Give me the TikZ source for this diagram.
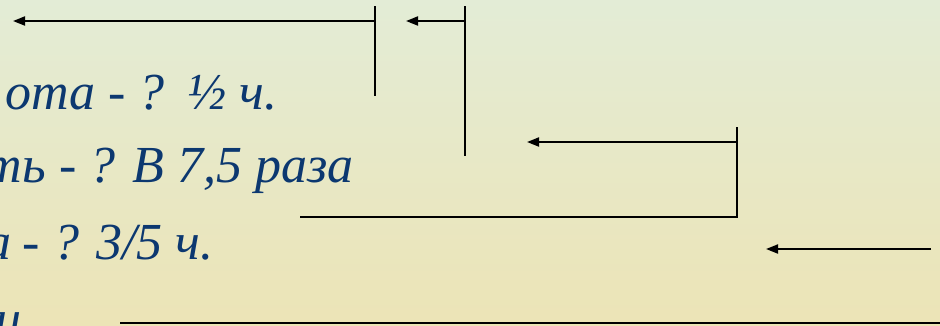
\documentclass[tikz,border=0pt]{standalone}
\usepackage{fontspec}
\setmainfont{Liberation Serif}
\usetikzlibrary{arrows.meta, positioning}
\definecolor{inkblue}{RGB}{12,56,112}
\definecolor{bgtop}{RGB}{227,236,214}
\definecolor{bgbottom}{RGB}{236,228,182}

\begin{document}
\begin{tikzpicture}[x=1pt, y=-1pt,
                given/.style={font=\fontsize{52}{56}\selectfont\itshape, text=inkblue,
                              inner sep=0pt, anchor=base east},
                bar/.style={line width=1.8pt, line cap=butt},
                back/.style={-{Triangle[length=12pt, width=9pt]}, line width=1.8pt}]

                % Background
                \shade[top color=bgtop, bottom color=bgbottom] (0,0) rectangle (940,325);
                \useasboundingbox (0,0) rectangle (940,325);
                \clip (0,0) rectangle (940,325);

                % Given values
                \node[given] (half) at (278,109) {ота - ?\hspace{0.45em}½ ч.};
                \node[given] (ratio) at (354,182) {ть - ? В 7,5 раза};
                \node[given] (part) at (214,259) {а\hspace{-0.03em} - ? 3/5 ч.};
                \node[given] (last) at (22,336) {и};

                % Bracket points
                \coordinate (b1top) at (375,6);
                \coordinate (b1bot) at (375,96);
                \coordinate (b1tip) at (13,21);
                \coordinate (b2top) at (465,6);
                \coordinate (b2bot) at (465,156);
                \coordinate (b2tip) at (406,21);
                \coordinate (b3top) at (737,127);
                \coordinate (b3bot) at (737,217);
                \coordinate (b3end) at (300,217);
                \coordinate (b3tip) at (527,142);
                \coordinate (a4start) at (931,249);
                \coordinate (a4tip) at (766,249);
                \coordinate (lnstart) at (120,323);
                \coordinate (lnend) at (940,323);

                % Brackets with arrows
                \draw[bar] (b1top) -- (b1bot);
                \draw[back] (b1top |- b1tip) -- (b1tip);
                \draw[bar] (b2top) -- (b2bot);
                \draw[back] (b2top |- b2tip) -- (b2tip);
                \draw[bar] (b3top) -- (b3bot) -- (b3end);
                \draw[back] (b3top |- b3tip) -- (b3tip);
                \draw[back] (a4start) -- (a4tip);
                \draw[bar] (lnstart) -- (lnend);
            \end{tikzpicture}
\end{document}
